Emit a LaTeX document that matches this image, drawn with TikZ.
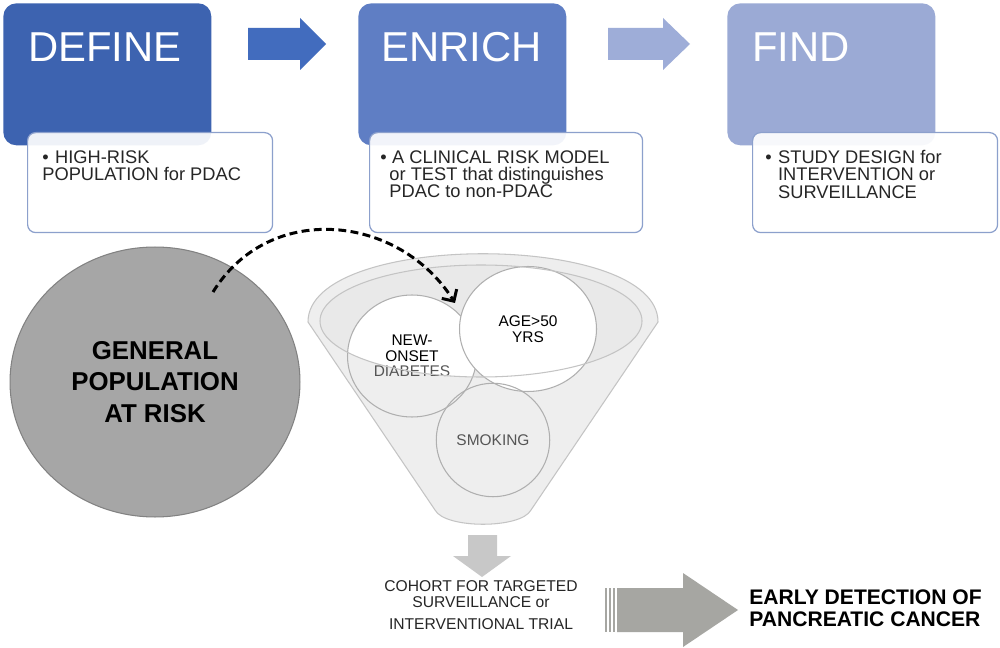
\documentclass[tikz,border=0pt]{standalone}
\usepackage{fontspec}
\setmainfont{Liberation Sans}
\usetikzlibrary{shapes.geometric, arrows.meta}

\definecolor{defineblue}{RGB}{61,99,176}
\definecolor{enrichblue}{RGB}{95,126,196}
\definecolor{findblue}{RGB}{155,170,213}
\definecolor{arrowone}{RGB}{66,108,190}
\definecolor{arrowtwo}{RGB}{158,173,216}
\definecolor{subline}{RGB}{140,160,204}
\definecolor{textdark}{RGB}{38,38,38}
\definecolor{labelgray}{RGB}{85,85,85}
\definecolor{popgray}{RGB}{166,166,166}
\definecolor{popline}{RGB}{130,130,130}
\definecolor{funnelfill}{RGB}{238,238,238}
\definecolor{rimfill}{RGB}{233,233,233}
\definecolor{funnelline}{RGB}{196,196,196}
\definecolor{bubbleline}{RGB}{175,175,175}
\definecolor{downgray}{RGB}{200,200,200}
\definecolor{bigarrow}{RGB}{166,166,162}

\begin{document}
\begin{tikzpicture}[x=0.02cm, y=-0.02cm,
    stage/.style={rectangle, rounded corners=0.26cm, minimum width=4.16cm, minimum height=2.84cm, anchor=north west, inner sep=0pt},
    stagetext/.style={anchor=north west, inner sep=0pt, text=white, font=\fontsize{23.8}{28}\selectfont},
    subbox/.style={rectangle, rounded corners=0.16cm, draw=subline, line width=0.7pt, fill=white, fill opacity=0.92, minimum height=2cm, anchor=north west, inner sep=0pt},
    subtext/.style={anchor=north west, inner sep=0pt, text=textdark, font=\fontsize{10.4}{9.9}\selectfont, align=left},
    bubble/.style={ellipse, draw=bubbleline, line width=0.6pt, inner sep=0pt, font=\fontsize{8.8}{8.8}\selectfont, align=center}]

  \fill[white] (0,0) rectangle (1000,648);
  \useasboundingbox (0,0) rectangle (1000,648);

  % the three stages
  \node[stage, fill=defineblue] (definebox) at (3,3) {};
  \node[stage, fill=enrichblue] (enrichbox) at (358,3) {};
  \node[stage, fill=findblue] (findbox) at (727,3) {};
  \node[stagetext] (define) at (28,32) {DEFINE};
  \node[stagetext] (enrich) at (381,32) {ENRICH};
  \node[stagetext] (find) at (752,32) {FIND};

  % arrows between stages
  \fill[arrowone] (248,28) -- (300,28) -- (300,18) -- (326,44) -- (300,70) -- (300,60) -- (248,60) -- cycle;
  \fill[arrowtwo] (608,28) -- (663,28) -- (663,18) -- (690,44) -- (663,70) -- (663,60) -- (608,60) -- cycle;

  % text boxes under the stages
  \node[subbox, minimum width=4.9cm] (definesub) at (27,132) {};
  \node[subbox, minimum width=5.46cm] (enrichsub) at (369,132) {};
  \node[subbox, minimum width=4.9cm] (findsub) at (752,132) {};
  \node[subtext] (definetext) at (42,150) {\textbullet\hspace{0.35em}HIGH-RISK\\POPULATION for PDAC};
  \node[subtext] (enrichtext) at (380,150) {\textbullet\hspace{0.3em}A CLINICAL RISK MODEL\\\hspace{0.5em}or TEST that distinguishes\\\hspace{0.5em}PDAC to non-PDAC};
  \node[subtext] (findtext) at (765,150) {\textbullet\hspace{0.35em}STUDY DESIGN for\\\phantom{\textbullet}\hspace{0.35em}INTERVENTION or\\\phantom{\textbullet}\hspace{0.35em}SURVEILLANCE};

  % funnel
  \filldraw[fill=funnelfill, draw=funnelline, line width=0.6pt] (308,322) .. controls (308,231) and (658,231) .. (658,322) -- (531,510) .. controls (521,529) and (445,529) .. (435,510) -- cycle;
  \fill[rimfill] (481,321) ellipse [x radius=161, y radius=56];
  \begin{scope}
    \clip (481,321) ellipse [x radius=161, y radius=56];
    \fill[white] (412,356) ellipse [x radius=64.5, y radius=61];
  \end{scope}

  % risk factors
  \node[bubble, minimum width=2.58cm, minimum height=2.44cm] (diabetes) at (412,356) {NEW-\\ONSET\\\textcolor{labelgray}{DIABETES}};
  \node[bubble, fill=white, minimum width=2.74cm, minimum height=2.5cm] (age) at (528,329) {AGE>50\\YRS};
  \draw[funnelline, line width=0.6pt] (481,321) ellipse [x radius=161, y radius=56];
  \node[bubble, circle, minimum size=2.27cm, text=labelgray] (smoking) at (493,440) {SMOKING};

  % general population
  \node[ellipse, fill=popgray, draw=popline, line width=0.6pt, minimum width=5.8cm, minimum height=5.4cm, inner sep=0pt, align=center, font=\bfseries\fontsize{14.7}{17.9}\selectfont] (genpop) at (155,382) {GENERAL\\POPULATION\\AT RISK};

  \coordinate (dashstart) at (213,292);
  \coordinate (dashend) at (455,303);
  \draw[line width=1.7pt, dash pattern=on 4.5pt off 2.5pt, -{Straight Barb[length=5pt, width=10pt]}] (dashstart) .. controls (270,200) and (400,215) .. (dashend);

  % cohort
  \fill[downgray] (468,535) -- (497,535) -- (497,556) -- (511,556) -- (482,577) -- (453,556) -- (468,556) -- cycle;
  \node[anchor=north, inner sep=0pt, text=textdark, align=center, font=\fontsize{8.9}{9.1}\selectfont] (cohort) at (481,580) {COHORT FOR TARGETED\\SURVEILLANCE or\\[3.4pt]INTERVENTIONAL TRIAL};

  % outcome
  \foreach \s in {605,609,613}
    \fill[bigarrow] (\s,588) rectangle (\s+2,632);
  \fill[bigarrow] (617,588) -- (683,588) -- (683,573) -- (738,610) -- (683,647) -- (683,632) -- (617,632) -- cycle;
  \node[anchor=north west, inner sep=0pt, align=left, font=\bfseries\fontsize{12}{13}\selectfont] (early) at (749,589) {EARLY DETECTION OF\\PANCREATIC CANCER};
\end{tikzpicture}
\end{document}
